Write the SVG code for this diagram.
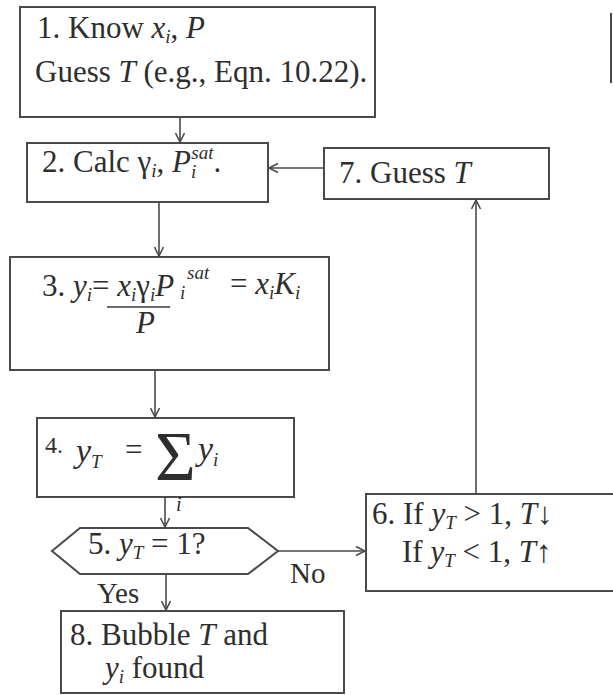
<svg xmlns="http://www.w3.org/2000/svg" width="613" height="695" viewBox="0 0 613 695">
<defs>
<style>
.box{fill:#fff;stroke:#4a4a4a;stroke-width:2}
.ln{fill:none;stroke:#4a4a4a;stroke-width:1.6}
text{font-family:"Liberation Serif","Times New Roman",serif;fill:#2e2e2e;font-size:31px}
.it{font-style:italic}
.sub{font-size:19px}
</style>
<marker id="ah" markerUnits="userSpaceOnUse" markerWidth="12" markerHeight="12" refX="10" refY="5" orient="auto">
<path d="M1,0.5 L10,5 L1,9.5" fill="none" stroke="#4a4a4a" stroke-width="1.6"/>
</marker>
</defs>
<rect width="613" height="695" fill="#fff"/>

<g id="connectors">
<line class="ln" x1="180" y1="117" x2="180" y2="142" marker-end="url(#ah)"/>
<line class="ln" x1="159" y1="202" x2="159" y2="256" marker-end="url(#ah)"/>
<line class="ln" x1="155" y1="370" x2="155" y2="417" marker-end="url(#ah)"/>
<line class="ln" x1="165" y1="497" x2="165" y2="527" marker-end="url(#ah)"/>
<line class="ln" x1="166" y1="574" x2="166" y2="610" marker-end="url(#ah)"/>
<line class="ln" x1="278" y1="551" x2="365" y2="551" marker-end="url(#ah)"/>
<line class="ln" x1="476" y1="494" x2="476" y2="200" marker-end="url(#ah)"/>
<line class="ln" x1="324" y1="168" x2="269" y2="168" marker-end="url(#ah)"/>
<text x="97" y="603" style="font-size:29px">Yes</text>
<text x="290" y="583" style="font-size:29px">No</text>
</g>

<g id="node1">
<rect class="box" x="20" y="7" width="355" height="110"/>
<text x="37" y="38">1. Know <tspan class="it">x</tspan><tspan class="it sub" dy="5">i</tspan><tspan dy="-5">, </tspan><tspan class="it">P</tspan></text>
<text x="35" y="82">Guess <tspan class="it">T</tspan> (e.g., Eqn. 10.22).</text>
</g>

<g id="node2">
<rect class="box" x="27" y="143" width="241" height="59"/>
<text x="42" y="172">2. Calc γ<tspan class="it sub" dy="5">i</tspan><tspan dy="-5">, </tspan><tspan class="it">P</tspan><tspan class="it sub" dy="6">i</tspan><tspan class="it sub" dx="-5" dy="-19">sat</tspan><tspan dy="13">.</tspan></text>
</g>

<g id="node3">
<rect class="box" x="10" y="257" width="319" height="113"/>
<text x="42" y="296">3. <tspan class="it">y</tspan><tspan class="it sub" dy="5">i</tspan><tspan dy="-5">= </tspan><tspan class="it">x</tspan><tspan class="it sub" dy="5">i</tspan><tspan dy="-5">γ</tspan><tspan class="it sub" dy="5">i</tspan><tspan class="it" dy="-5">P</tspan></text>
<text x="180" y="299" class="it sub">i</text>
<text x="187" y="279" class="it sub">sat</text>
<text x="230" y="294">= <tspan class="it">x</tspan><tspan class="it sub" dy="5">i</tspan><tspan class="it" dy="-5">K</tspan><tspan class="it sub" dy="5">i</tspan></text>
<line x1="107" y1="307" x2="170" y2="307" stroke="#3a3a3a" stroke-width="1.6"/>
<text x="136" y="333" class="it">P</text>
</g>

<g id="node4">
<rect class="box" x="37" y="418" width="257" height="79"/>
<text x="45" y="453" style="font-size:24px">4.</text>
<text x="76" y="462" class="it" style="font-size:34px">y<tspan class="sub" dy="6">T</tspan></text>
<text x="125" y="460">=</text>
<text x="155" y="480" style="font-size:70px">Σ</text>
<text x="198" y="460" class="it" style="font-size:34px">y<tspan class="sub" dy="6">i</tspan></text>
<text x="176" y="511" class="it" style="font-size:20px">i</text>
</g>

<g id="node5">
<polygon class="box" points="52,551 80,528 248,528 278,551 248,574 80,574"/>
<text x="88" y="554">5. <tspan class="it">y</tspan><tspan class="it sub" dy="5">T</tspan><tspan dy="-5"> = 1?</tspan></text>
</g>

<g id="node6">
<rect class="box" x="366" y="494" width="260" height="97"/>
<text x="372" y="524">6. If <tspan class="it">y</tspan><tspan class="it sub" dy="5">T</tspan><tspan dy="-5"> &gt; 1, </tspan><tspan class="it">T</tspan>↓</text>
<text x="402" y="562">If <tspan class="it">y</tspan><tspan class="it sub" dy="5">T</tspan><tspan dy="-5"> &lt; 1, </tspan><tspan class="it">T</tspan>↑</text>
</g>

<g id="node7">
<rect class="box" x="324" y="148" width="225" height="51"/>
<text x="339" y="183">7. Guess <tspan class="it">T</tspan></text>
</g>

<g id="node8">
<rect class="box" x="61" y="611" width="283" height="82"/>
<text x="70" y="645">8. Bubble <tspan class="it">T</tspan> and</text>
<text x="105" y="678"><tspan class="it">y</tspan><tspan class="it sub" dy="5">i</tspan><tspan dy="-5"> found</tspan></text>
</g>

<g id="edge-fragment">
<line x1="611" y1="13" x2="611" y2="83" stroke="#4a4a4a" stroke-width="2"/>
</g>
</svg>
